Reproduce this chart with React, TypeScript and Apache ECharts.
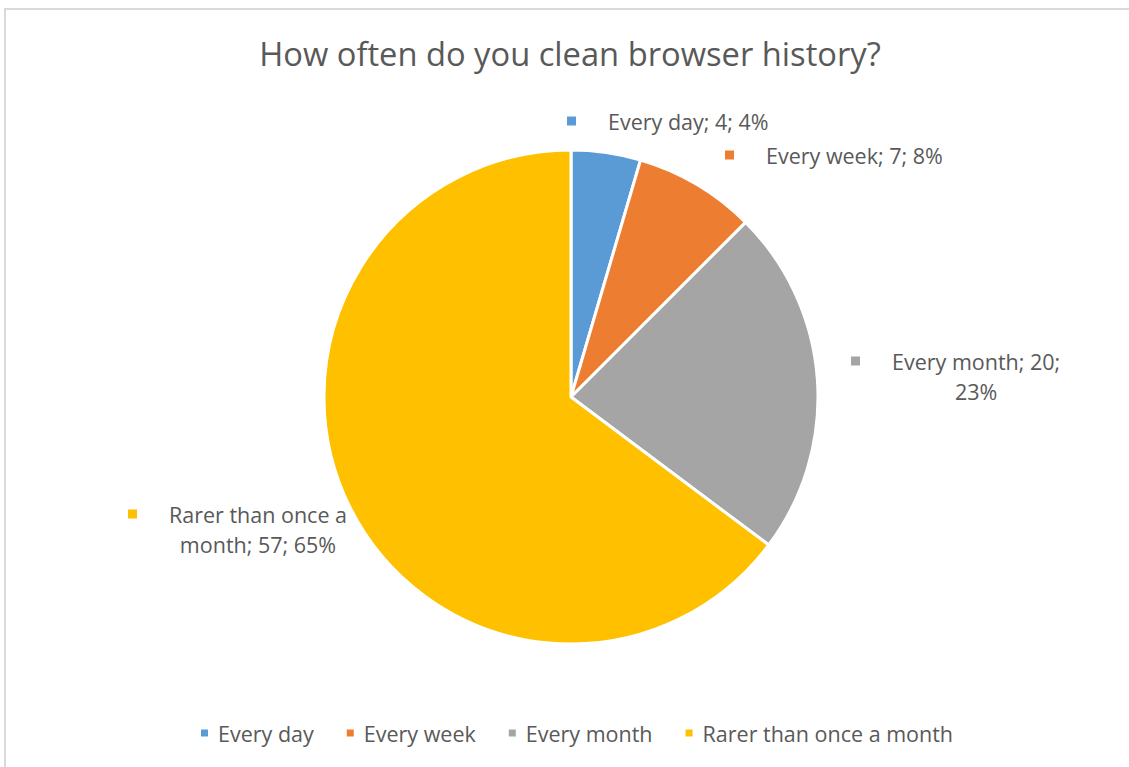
import React, { useEffect, useRef } from "react";
import * as echarts from "echarts";

const categories = ["Every day", "Every week", "Every month", "Rarer than once a month"];
const values = [4, 7, 20, 57];
const percentLabels = ["4%", "8%", "23%", "65%"];
const wrapChars = [40, 40, 16, 17];
const colors = ["#5B9BD5", "#ED7D31", "#A5A5A5", "#FFC000"];
const titleText = "How often do you clean browser history?";

const FONT = "'Open Sans', Lato, sans-serif";
const TEXT_COLOR = "#595959";

function wrap(text: string, max: number): string[] {
  const words = text.split(" ");
  const lines: string[] = [];
  let cur = "";
  for (const w of words) {
    const cand = cur ? cur + " " + w : w;
    if (cand.length > max && cur) {
      lines.push(cur);
      cur = w;
    } else {
      cur = cand;
    }
  }
  if (cur) lines.push(cur);
  return lines;
}

export default function App() {
  const ref = useRef<HTMLDivElement>(null);
  useEffect(() => {
    if (!ref.current) return;
    const chart = echarts.init(ref.current, undefined, { renderer: "svg" });
    const labelPos = [
      { x: 567, y: 106 },
      { x: 725, y: 140 },
      { x: 851, y: 346 },
      { x: 128, y: 499 },
    ];
    const data = categories.map((name, i) => {
      const full = `${name}; ${values[i]}; ${percentLabels[i]}`;
      const lines = wrap(full, wrapChars[i]);
      const text = lines
        .map((l, k) => (k === 0 ? `{m|}{g|}{t|${l}}` : `{s|}{t|${l}}`))
        .join("\n");
      return {
        name,
        value: values[i],
        itemStyle: { color: colors[i] },
        label: {
          formatter: text,
          rich: {
            m: { width: 9, height: 9, backgroundColor: colors[i], align: "center" },
            g: { width: 32, align: "center" },
            s: { width: 41, align: "center" },
            t: {
              fontSize: 21.5,
              fontFamily: FONT,
              color: TEXT_COLOR,
              lineHeight: 30,
              align: "center",
            },
          },
        },
      };
    });
    chart.setOption({
      animation: false,
      backgroundColor: "#ffffff",
      title: {
        text: titleText,
        left: 565,
        textAlign: "center",
        top: 32,
        textStyle: {
          fontFamily: FONT,
          fontSize: 32.7,
          fontWeight: "normal",
          color: TEXT_COLOR,
        },
      },
      legend: {
        data: categories,
        top: 717,
        left: 194,
        icon: "rect",
        itemWidth: 9,
        itemHeight: 9,
        itemGap: 31,
        textStyle: {
          fontFamily: FONT,
          fontSize: 21.5,
          color: TEXT_COLOR,
          padding: [0, 0, 0, 4],
        },
      },
      graphic: [
        {
          type: "rect",
          silent: true,
          z: -10,
          shape: { x: 5, y: 9, width: 1300, height: 900 },
          style: { fill: "none", stroke: "#D9D9D9", lineWidth: 2 },
        },
      ],
      series: [
        {
          type: "pie",
          center: [571, 397],
          radius: 247,
          startAngle: 90,
          clockwise: true,
          data,
          itemStyle: { borderColor: "#ffffff", borderWidth: 3 },
          label: { show: true, position: "outside" },
          labelLine: { show: false },
          labelLayout: (p: any) => {
            const pos = labelPos[p.dataIndex];
            return { x: pos.x, y: pos.y, align: "left", verticalAlign: "top" };
          },
          emphasis: { disabled: true },
        },
      ],
    });
    return () => chart.dispose();
  }, []);
  return (
    <div
      ref={ref}
      style={{ position: "fixed", left: 0, top: 0, width: 1129, height: 767 }}
    />
  );
}
